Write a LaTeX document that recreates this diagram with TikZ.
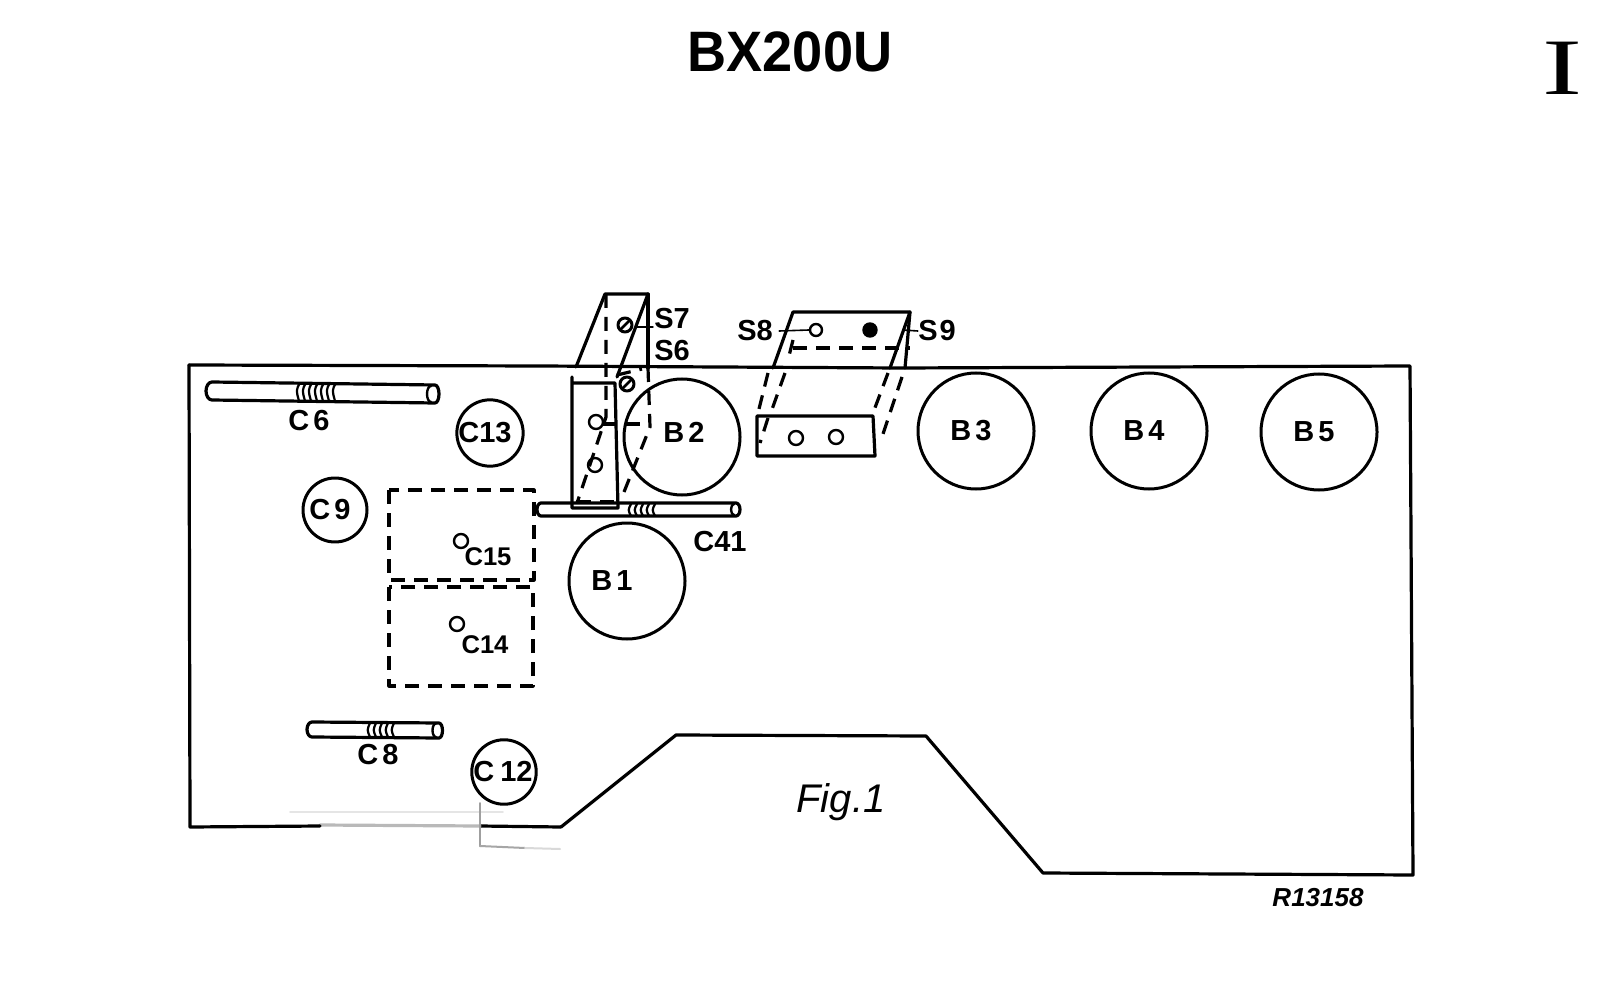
\documentclass[tikz,border=0pt]{standalone}
\usepackage{fontspec}
\setmainfont{Liberation Sans}
\newfontfamily\serifI{Liberation Serif}
\begin{document}
\begin{tikzpicture}[x=0.5pt,y=-0.5pt,
  line cap=round,line join=round,
  ln/.style={line width=1.6pt,black},
  thn/.style={line width=1.2pt,black},
  dsh/.style={line width=1.6pt,black,dash pattern=on 7pt off 4.5pt,line cap=butt},
  lab/.style={font=\bfseries\fontsize{14.5}{14.5}\selectfont,inner sep=0pt,text=black},
  smlab/.style={font=\bfseries\fontsize{12.8}{12.8}\selectfont,inner sep=0pt,text=black},
  tube/.style={circle,draw=black,line width=1.5pt,inner sep=0pt,minimum size=58pt,font=\bfseries\fontsize{14.5}{14.5}\selectfont},
  trim/.style={circle,draw=black,line width=1.5pt,inner sep=0pt,minimum size=32pt,font=\bfseries\fontsize{14.5}{14.5}\selectfont},
  hole/.style={circle,draw=black,line width=1.2pt,inner sep=0pt,minimum size=7pt},
  screw/.style={circle,draw=black,line width=1.5pt,inner sep=0pt,minimum size=7pt,path picture={\draw[line width=1.4pt] (path picture bounding box.south west) -- (path picture bounding box.north east);}},
  rib/.style={line width=1.1pt,black}]
\useasboundingbox (0,0) rectangle (1600,989);
\fill[white] (0,0) rectangle (1600,989);

% title and marks
\node[inner sep=0pt,font=\bfseries\fontsize{28.5}{28.5}\selectfont,xscale=.95] (title) at (790,52) {BX200U};
\node[inner sep=0pt,font=\serifI\fontsize{40}{40}\selectfont,xscale=1.5] (roman) at (1562,68) {I};

% chassis outline
\draw[ln] (189,365) -- (540,366) -- (900,368) -- (1410,366) -- (1413,875) -- (1043,873)
  -- (926,736) -- (676,735) -- (561,827);
\draw[ln] (561,827) -- (480,826);
\draw[ln,gray!55] (480,826) -- (320,825);
\draw[ln] (320,826) -- (190,827) -- (189,365);
% faint fold traces
\draw[line width=.9pt,gray!20] (290,812) -- (503,812);
\draw[line width=1pt,gray!75] (480,803) -- (480,846);
\draw[line width=1pt,gray!70] (480,846) -- (525,848);
\draw[line width=1pt,gray!30] (525,848) -- (560,849);

% tube sockets
\node[tube] (B1) at (627,581) {B\kern2pt 1\kern15pt};
\node[tube] (B2) at (682,437) {\raisebox{5pt}{\kern2pt B\kern2pt 2}};
\node[tube] (B3) at (976,431) {B\kern2pt 3\kern5pt};
\node[tube] (B4) at (1149,431) {B\kern2pt 4\kern5pt};
\node[tube] (B5) at (1319,432) {B\kern2pt 5\kern5pt};

% trimmers
\node[trim] (C13) at (490,433) {C13\kern5pt};
\node[trim] (C9)  at (335,510) {C\kern2pt 9\kern5pt};
\node[trim] (C12) at (504,772) {C\kern3pt 12\kern1pt};

% rods
\draw[ln] (212,382) -- (435,385) arc[start angle=-90,end angle=90,x radius=4,y radius=9] -- (212,400)
   arc[start angle=90,end angle=270,x radius=6,y radius=9];
\draw[thn] (431,386) arc[start angle=-90,end angle=-270,x radius=4,y radius=8];
\foreach \x in {298,304,310,316,322,328,334}
  \draw[rib] (\x+2,383) .. controls (\x-2,390) .. (\x+1,401);
\node[lab] (C6) at (309,421) {C\kern2pt 6};

\draw[ln] (312,722) -- (439,723) arc[start angle=-90,end angle=90,x radius=3.5,y radius=7.5] -- (312,737)
   arc[start angle=90,end angle=270,x radius=5,y radius=7.5];
\draw[thn] (436,723.5) arc[start angle=-90,end angle=-270,x radius=3.5,y radius=6.8];
\foreach \x in {369,375,381,387,393}
  \draw[rib] (\x+1,723) .. controls (\x-2,730) .. (\x+1,737);
\node[lab] (C8) at (378,755) {C\kern2pt 8};

\draw[ln] (541,503) -- (736,503) arc[start angle=-90,end angle=90,x radius=4,y radius=6.5] -- (541,516)
   arc[start angle=90,end angle=270,x radius=4,y radius=6.5];
\draw[thn] (734,504) arc[start angle=-90,end angle=-270,x radius=3,y radius=5.5];
\foreach \x in {630,636,642,648,654}
  \draw[rib] (\x+1,504) .. controls (\x-2,510) .. (\x+1,516);
\node[lab] (C41) at (720,542) {C41};

% dashed trimmer cans
\draw[dsh] (389,490) rectangle (534,580);
\draw[dsh] (389,587) rectangle (533,686);
\node[hole] (h15) at (461,541) {};
\node[smlab] (C15) at (488,557) {C15};
\node[hole] (h14) at (457,624) {};
\node[smlab] (C14) at (485,645) {C14};

% tall bracket
\draw[ln] (572,377) -- (572,508) -- (618,508) -- (615,383) -- (572,383);
\draw[ln] (576,367) -- (605,294) -- (648,294) -- (617,377);
\draw[ln] (648,294) -- (648,368);
\draw[dsh] (606,294) -- (606,417) -- (577,503);
\draw[dsh] (648,368) -- (650,427) -- (622,497);
\draw[dsh] (577,502) -- (617,502);
\draw[dsh] (617,375) -- (642,369);
\draw[dsh] (603,424) -- (650,424);
\node[screw] (s7) at (625,325) {};
\node[screw] (s6) at (627,384) {};
\node[hole] (h1) at (596,422) {};
\node[hole] (h2) at (595,465) {};
\coordinate (s7t) at (653,327);
\draw[line width=.7pt] (s7) ++(12,2) -- (s7t);
\node[lab] (S7) at (672,319) {S7};
\node[lab] (S6) at (672,351) {S6};

% wide bracket
\draw[ln] (773,368) -- (793,312) -- (910,312) -- (890,368);
\draw[ln] (910,312) -- (905,368);
\draw[dsh] (793,340) -- (788,360);
\draw[dsh] (793,348) -- (910,348);
\draw[dsh] (768,373) -- (758,413);
\draw[dsh] (785,373) -- (770,415);
\draw[dsh] (768,418) -- (760,443);
\draw[dsh] (888,373) -- (873,413);
\draw[dsh] (902,377) -- (882,437);
\draw[ln] (757,416) -- (873,416) -- (875,456) -- (757,456) -- cycle;
\node[hole] (h3) at (796,438) {};
\node[hole] (h4) at (836,437) {};
\node[hole,minimum size=6pt] (s8h) at (816,330) {};
\node[hole,fill=black,minimum size=6.5pt] (s9h) at (870,330) {};
\node[lab] (S8) at (755,331) {S8};
\node[lab] (S9) at (937,331) {S\kern1pt 9};
\draw[line width=.8pt] (S8.east) ++(6,0) -- (s8h.west);
\draw[line width=.8pt] (903,330) -- (S9.west);

% captions
\node[inner sep=0pt,font=\itshape\fontsize{20}{20}\selectfont] (fig) at (841,802) {Fig.1};
\node[inner sep=0pt,font=\bfseries\itshape\fontsize{13}{13}\selectfont] (ref) at (1318,898) {R13158};
\end{tikzpicture}
\end{document}
